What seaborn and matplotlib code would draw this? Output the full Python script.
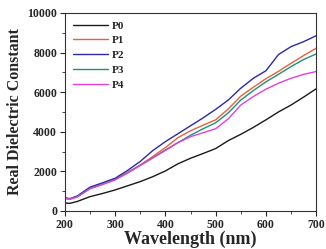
import pandas as pd
import matplotlib.pyplot as plt
import seaborn as sns
from matplotlib.ticker import MultipleLocator

# Values
wavelength = [200, 210, 225, 250, 275, 300, 325, 350, 375, 400, 425,
              450, 475, 500, 525, 550, 575, 600, 625, 650, 675, 700]
p0 = [400, 380, 480, 720, 880, 1060, 1270, 1480, 1730, 2020, 2380,
      2660, 2900, 3150, 3550, 3870, 4220, 4600, 5000, 5350, 5750, 6170]
p1 = [640, 600, 730, 1150, 1370, 1600, 1950, 2320, 2750, 3200, 3700,
      4050, 4330, 4600, 5150, 5800, 6250, 6680, 7050, 7460, 7850, 8220]
p2 = [660, 620, 760, 1200, 1420, 1650, 2050, 2500, 3050, 3500, 3900,
      4300, 4700, 5130, 5600, 6200, 6700, 7080, 7900, 8300, 8550, 8850]
p3 = [640, 600, 720, 1130, 1350, 1580, 1930, 2300, 2680, 3080, 3450,
      3820, 4150, 4450, 4950, 5600, 6080, 6520, 6900, 7290, 7650, 7930]
p4 = [630, 590, 710, 1120, 1340, 1570, 1920, 2300, 2680, 3050, 3450,
      3750, 3950, 4150, 4650, 5350, 5780, 6150, 6450, 6700, 6900, 7040]

samples = ["P0", "P1", "P2", "P3", "P4"]
colors = ["#1a1a1a", "#e8603c", "#2a2aa8", "#1f8f7a", "#e040e0"]

df = pd.concat([
    pd.DataFrame({"wl": wavelength, "val": v, "sample": s})
    for s, v in zip(samples, [p0, p1, p2, p3, p4])
])

sns.set_style("ticks")
plt.rcParams["font.family"] = ["Liberation Serif", "DejaVu Serif"]
plt.rcParams["font.weight"] = "bold"

fig = plt.figure(figsize=(3.26, 2.49), dpi=100)
ax = fig.add_axes([0.199, 0.153, 0.771, 0.795])

sns.lineplot(data=df, x="wl", y="val", hue="sample", palette=colors,
             linewidth=1.0, ax=ax)

ax.set_xlim(200, 700)
ax.set_ylim(0, 10000)
ax.xaxis.set_major_locator(MultipleLocator(100))
ax.xaxis.set_minor_locator(MultipleLocator(50))
ax.yaxis.set_major_locator(MultipleLocator(2000))
ax.yaxis.set_minor_locator(MultipleLocator(1000))
ax.tick_params(which="major", length=3.5, width=0.8, labelsize=8.5, pad=2)
ax.tick_params(which="minor", length=2, width=0.6)
for lbl in ax.get_xticklabels() + ax.get_yticklabels():
    lbl.set_fontweight("bold")
for sp in ax.spines.values():
    sp.set_linewidth(0.8)
    sp.set_color("#333333")

ax.set_xlabel("Wavelength (nm)", fontsize=13, fontweight="bold", labelpad=0)
ax.set_ylabel("Real Dielectric Constant", fontsize=11.5, fontweight="bold", labelpad=3)

ax.legend(loc="upper left", frameon=False, handlelength=3.2,
          handletextpad=0.3, labelspacing=0.45, borderaxespad=0.3,
          prop={"weight": "bold", "size": 8})

fig.savefig("out.png", dpi=100)
